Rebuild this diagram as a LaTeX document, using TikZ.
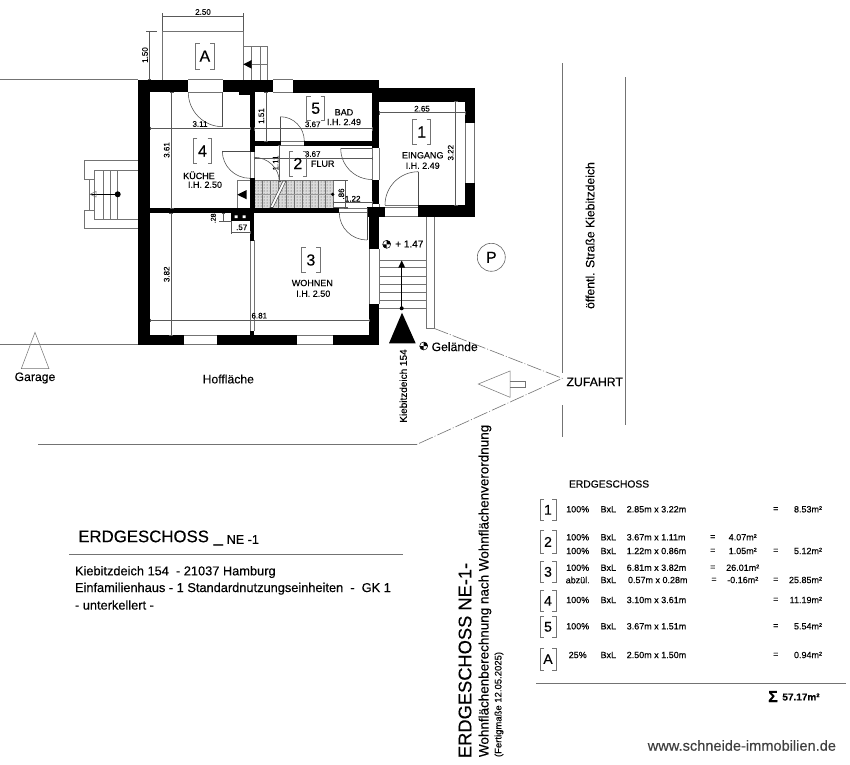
\documentclass[tikz,border=0pt]{standalone}
\usepackage{fontspec}
\setmainfont[FakeBold=0.25]{Liberation Sans}
\usetikzlibrary{calc,patterns}
\newcount\nodeno
\tikzset{
  gl/.style={draw=black!55,line width=.7pt},
  fl/.style={draw=black!70,line width=.55pt},
  dl/.style={draw=black!65,line width=.5pt},
  ddl/.style={draw=black!55,line width=.6pt,dash pattern=on 15pt off 2pt on 1pt off 2pt},
  txt/.style={inner sep=0pt,outer sep=0pt,text=black},
  up/.style={rotate=90}
}
\newcommand\tx[5][]{\global\advance\nodeno by 1
  \node[txt,#1] (n\the\nodeno) at (#2,#3) {\fontsize{#4}{#4}\selectfont #5};}
\newcommand\wall[4]{\fill[black] (#1,#2) rectangle (#3,#4);}
% door swing: start, end, corner
\newcommand\qarc[6]{\draw[fl] (#1,#2) .. controls ($(#1,#2)!0.5523!(#5,#6)$) and ($(#3,#4)!0.5523!(#5,#6)$) .. (#3,#4);}
\newcommand\dimh[3]{\draw[dl] (#1,#3) -- (#2,#3);
  \draw[dl] ({#1-.0},{#3-1.8}) -- ++(0,3.6) ({#2},{#3-1.8}) -- ++(0,3.6);}
\newcommand\dimv[3]{\draw[dl] (#3,#1) -- (#3,#2);
  \draw[dl] ({#3-1.8},#1) -- ++(3.6,0) ({#3-1.8},#2) -- ++(3.6,0);}
\newcommand\tagb[6]{\draw[gl,line width=.5pt] ({#1+4},#2) -- (#1,#2) -- (#1,#4) -- ({#1+4},#4);
  \draw[gl,line width=.5pt] ({#3-4},#2) -- (#3,#2) -- (#3,#4) -- ({#3-4},#4);
  \tx{{(#1+#3)/2}}{{(#2+#4)/2}}{#5}{#6}}
\newcommand\lev[2]{\draw[black,line width=.5pt] (#1,#2) circle[radius=4pt];
  \fill[black] (#1,#2) -- ({#1+4},#2) .. controls ({#1+4},{#2-2.2}) and ({#1+2.2},{#2-4}) .. (#1,{#2-4}) -- cycle;
  \fill[black] (#1,#2) -- ({#1-4},#2) .. controls ({#1-4},{#2+2.2}) and ({#1-2.2},{#2+4}) .. (#1,{#2+4}) -- cycle;}
\newcommand\rw[3]{\tx{577.7}{#1}{9}{#2}\tx{608.3}{#1}{9}{BxL}\tx[anchor=west]{626.7}{#1}{9}{#3}}
\begin{document}
\begin{tikzpicture}[x=1pt,y=-1pt]
\useasboundingbox (0,0) rectangle (850,764);
\fill[white] (0,0) rectangle (850,764);
% site lines
\draw[gl] (0,79.5) -- (138,79.5);
\draw[gl] (0,344.5) -- (138,344.5);
\draw[gl] (38,444.3) -- (417,444.3);
\draw[gl] (562.5,63) -- (562.5,373) (562.5,405) -- (562.5,437);
\draw[gl] (625.3,77) -- (625.3,425);
\draw[ddl] (434,328.3) -- (562.3,378.3) -- (417,444.3);
% A terrace
\draw[gl] (162.5,79.5) -- (162.5,31.3) -- (243.5,31.3) -- (243.5,79.5);
\draw[gl] (243.5,46.7) -- (267.7,46.7) -- (267.7,79.5);
\draw[gl] (251.7,46.7) -- (251.7,79.5) (260,46.7) -- (260,79.5);
\fill[black] (243.3,64.3) -- (251.7,60) -- (251.7,68.7) -- cycle;
\draw[gl] (251.7,64.3) -- (267.7,64.3);
\dimh{162.5}{243.5}{16}
\draw[dl] (162.5,13) -- (162.5,31) (243.5,13) -- (243.5,31);
\dimv{31}{79.5}{149.3}
\draw[dl] (146,31.3) -- (157,31.3);
\tx{203}{12}{8}{2.50}
\tx[up]{145}{55}{8}{1.50}
\tagb{195.7}{43.3}{214}{69}{16}{A}
% left stairs
\draw[gl] (138,160.3) -- (84.3,160.3) -- (84.3,179.3) -- (94.3,179.3) -- (94.3,170) -- (138,170);
\draw[gl] (138,228.7) -- (84.3,228.7) -- (84.3,210) -- (94.3,210) -- (94.3,219.3) -- (138,219.3);
\draw[gl] (94.3,170) -- (94.3,219.3) (89.3,179.3) -- (89.3,210);
\draw[gl] (103.3,170) -- (103.3,219.3) (110.7,170) -- (110.7,219.3) (117.7,170) -- (117.7,219.3);
\draw[black,line width=.5pt] (89.5,194.3) -- (117.7,194.3);
\fill[black] (117.7,194.3) circle[radius=3pt];
\draw[gl,line width=.5pt] (90,194.3) -- (96,191.5) -- (96,197) -- cycle;
% stair hatch
\fill[black!14] (254.5,180) rectangle (333,207.5);
\fill[pattern=dots,pattern color=black!75] (254.5,180) rectangle (333,207.5);
\draw[gl,line width=.5pt] (254.5,180) -- (333,180) -- (333,207.5);
\foreach \sx in {262.5,270.3,278.2,286,294,302,310,318,325.5}{\draw[gl,line width=.5pt] (\sx,180) -- (\sx,207.5);}
\draw[fl,draw=black!40] (254.5,194) -- (333,194);
\draw[fl,fill=white] (270,207.5) -- (283,181) -- (286,181) -- (273,207.5) -- cycle;
\fill[black] (332.7,194.3) circle[radius=1.8pt];
% openings
\draw[gl] (188.3,79.5) -- (222.7,79.5) (188.3,92.3) -- (222.7,92.3);
\draw[gl] (273.3,79.5) -- (292.7,79.5) (273.3,92.3) -- (292.7,92.3);
\draw[gl] (184,335.2) -- (217.3,335.2) (184,344.8) -- (217.3,344.8);
\draw[gl] (296.7,335.2) -- (333.3,335.2) (296.7,344.8) -- (333.3,344.8);
\draw[gl] (369.5,249) -- (369.5,304) (379,249) -- (379,304);
\draw[gl] (465.3,122) -- (465.3,183) (474.7,122) -- (474.7,183);
\draw[gl] (372.3,148) -- (372.3,180) (379,148) -- (379,180);
\draw[gl] (250.3,152) -- (250.3,178) (254.3,152) -- (254.3,178);
\draw[gl] (280.5,141.2) -- (304.3,141.2) (280.5,145.3) -- (304.3,145.3);
\draw[gl] (250,240) -- (250,331) (254,240) -- (254,331);
\draw[gl] (339.3,208) -- (367.3,208) (339.3,212.7) -- (367.3,212.7);
\draw[gl] (385,205.2) -- (418.3,205.2) (385,207.5) -- (418.3,207.5) (385,216.5) -- (418.3,216.5);
\draw[gl] (372.3,204) -- (372.3,208) (379,204) -- (379,208);
% walls
\wall{138}{79.5}{188.3}{92.3}
\wall{222.7}{79.5}{273.3}{92.3}
\wall{239.3}{92}{252}{95}
\wall{292.7}{79.5}{379.3}{92.5}
\wall{138}{79.5}{150}{345}
\wall{138}{335}{184}{345}
\wall{217.3}{335}{296.7}{345}
\wall{333.3}{335}{379.3}{345}
\wall{369.3}{304}{379.3}{345}
\wall{369.3}{216}{379.3}{249.3}
\wall{367.3}{207.3}{385}{216.7}
\wall{372}{180}{379.3}{204}
\wall{372}{79.5}{379.3}{148.3}
\wall{379.3}{88.3}{475}{101.7}
\wall{465}{88.3}{475}{122.7}
\wall{465}{182.7}{475}{216.7}
\wall{418.3}{205}{475}{216.7}
\wall{250}{92}{254.5}{152}
\wall{250}{141}{280.5}{145.5}
\wall{304.3}{141}{379}{145.5}
\wall{250}{178}{254.5}{212}
\wall{150}{208}{339.3}{213}
\wall{249.5}{208}{254.3}{240.7}
\wall{231.3}{213}{249.5}{220.7}
\wall{249.5}{331}{254.3}{335}
\fill[white] (234.7,215.3) rectangle (237.5,218) (242.7,215.3) rectangle (245.5,218);
% small stair in Kueche
\draw[gl] (237.3,180) -- (237.3,208) (237.3,180) -- (250,180);
\fill[black] (237.3,194.7) -- (246.7,190) -- (246.7,199.3) -- cycle;
% doors
\draw[fl] (222.7,92.3) -- (222.7,126.7);
\qarc{188.3}{92.3}{222.7}{126.7}{188.3}{126.7}
\draw[fl] (250,151) -- (222.3,151);
\qarc{222.3}{151}{250}{178.3}{222.3}{178.3}
\draw[fl] (280.3,141) -- (280.3,116.7);
\qarc{280.3}{116.7}{304.3}{141}{304.3}{116.7}
\draw[fl] (372,148.3) -- (340.7,148.3);
\qarc{340.7}{148.3}{372}{179.5}{340.7}{179.5}
\draw[fl] (418.3,205) -- (418.3,171.7);
\qarc{418.3}{171.7}{385}{205}{385}{171.7}
\draw[fl] (367,208) -- (367,240);
\qarc{339.3}{212.7}{367}{240}{339.3}{240}
\qarc{254}{157.3}{279.3}{181.7}{279.3}{157.3}
% dimensions
\dimh{150}{250}{128.3}\tx{200}{124}{8}{3.11}
\dimv{92}{208}{171.7}\tx[up]{166.7}{150}{8}{3.61}
\dimv{92}{141}{266}\tx[up]{261.3}{116}{8}{1.51}
\dimv{145.5}{181}{279.3}\tx[up]{275.7}{163}{8}{1.11}
\dimh{254}{372.5}{158.3}\tx{312.7}{154}{8}{3.67}
\dimh{254}{372}{128.7}\tx{312.7}{124.3}{8}{3.67}
\dimh{379.3}{465}{112.7}\tx{422}{108.7}{8}{2.65}
\dimv{101.7}{205}{455.7}\tx[up]{450.7}{152.7}{8}{3.22}
\dimv{180}{208}{345.7}\tx[up]{341.3}{194}{8}{.86}
\draw[dl] (333,180) -- (348,180) (333,207.5) -- (348,207.5);
\dimh{333}{372}{202.7}\tx{352.7}{198.7}{8}{1.22}
\dimv{213}{335}{171}\tx[up]{166.7}{274.3}{8}{3.82}
\dimh{150}{369}{320.3}\tx{259.3}{315.7}{8}{6.81}
\dimh{231}{250}{232.3}\tx{241.7}{227.3}{8}{.57}
\dimv{213}{221}{223.3}\tx[up]{213.3}{218.3}{7}{.28}
\draw[dl] (219,221) -- (231,221) (231,221) -- (231,234);
% room tags and labels
\tagb{306.7}{96}{324.7}{120.7}{16}{5}
\tx{344}{112.3}{9}{BAD}\tx{344}{122}{9}{I.H. 2.49}
\tagb{289}{151}{306.7}{176}{16}{2}
\tx{322.7}{163.7}{9}{FLUR}
\tagb{412.7}{119.3}{430.7}{144.7}{16}{1}
\tx{422.7}{155.3}{9}{EINGANG}\tx{422.7}{165.7}{9}{I.H. 2.49}
\tagb{193.3}{138.3}{211.7}{163.7}{16}{4}
\tx{199}{175.3}{9}{KÜCHE}\tx{205}{184.7}{9}{I.H. 2.50}
\tagb{301.7}{247.3}{320}{272.7}{16}{3}
\tx{312.3}{283}{9}{WOHNEN}\tx{313.3}{293.7}{9}{I.H. 2.50}
% entrance stairs
\draw[gl] (426.7,216.7) -- (426.7,328.3) -- (434,328.3) -- (434,216.7);
\foreach \sy in {260,267.7,276,284,292,300,308.3}{\draw[gl] (379.3,\sy) -- (426.7,\sy);}
\draw[black,line width=.5pt] (401.7,308.3) -- (401.7,262);
\fill[black] (401.7,260.5) -- (405.2,267.7) -- (398.2,267.7) -- cycle;
\fill[black] (401.7,308.3) circle[radius=2pt];
\fill[black] (402,312.7) -- (415.7,343.3) -- (389,343.3) -- cycle;
\lev{386.7}{244.3}\tx{409.3}{244}{10}{+ 1.47}
\lev{423.7}{346}\tx{454.7}{346.7}{12.2}{Gelände}
\tx[up]{403.3}{386}{10}{Kiebitzdeich 154}
\draw[black!60,line width=.6pt] (491.3,257.3) circle[radius=14pt];
\tx{491.3}{257.3}{16}{P}
\draw[gl,line width=.5pt] (478.3,384) -- (510,371) -- (510,397.3) -- cycle;
\draw[gl,line width=.5pt] (510,381) -- (525.7,381) -- (525.7,387.7) -- (510,387.7);
\tx{594.7}{382}{12.3}{ZUFAHRT}
\tx[up]{590}{235.5}{12.2}{öffentl. Straße Kiebitzdeich}
\tx{35}{378}{12.2}{Garage}
\draw[gl,line width=.5pt] (35,332.3) -- (49,368.7) -- (21.3,368.7) -- cycle;
\tx{228.3}{379}{12.2}{Hoffläche}
% title block
\tx[anchor=west]{78.3}{538}{16.8}{ERDGESCHOSS \_}
\tx[anchor=west]{226.7}{539.5}{12.6}{NE -1}
\draw[gl] (69.3,554) -- (402.7,554);
\tx[anchor=west]{75}{572}{12.8}{Kiebitzdeich 154 \ - 21037 Hamburg}
\tx[anchor=west]{75}{588.7}{12.8}{Einfamilienhaus - 1 Standardnutzungseinheiten \ - \ GK 1}
\tx[anchor=west]{75}{605}{12.8}{- unterkellert -}
\tx[rotate=90,anchor=west]{465}{758}{18.3}{ERDGESCHOSS NE-1-}
\tx[rotate=90,anchor=west]{485}{757}{13.45}{Wohnflächenberechnung nach Wohnflächenverordnung}
\tx[rotate=90,anchor=west]{499}{757}{9.5}{(Fertigmaße 12.05.2025)}
% table
\tx[anchor=west]{569}{484}{10.3}{ERDGESCHOSS}
\tagb{540}{499.3}{556}{520.3}{14}{1}
\tagb{540}{530.7}{556}{553}{14}{2}
\tagb{540}{561}{556}{582.7}{14}{3}
\tagb{540}{590}{556}{611.7}{14}{4}
\tagb{540}{616}{556}{637.7}{14}{5}
\tagb{540}{648.3}{556}{670}{14}{A}
\rw{509.3}{100\%}{2.85m x 3.22m}
\rw{537.3}{100\%}{3.67m x 1.11m}
\rw{551}{100\%}{1.22m x 0.86m}
\rw{567.7}{100\%}{6.81m x 3.82m}
\tx{577.7}{580}{9}{abzül.}\tx{608.3}{580}{9}{BxL}\tx[anchor=west]{628}{580}{9}{0.57m x 0.28m}
\rw{600}{100\%}{3.10m x 3.61m}
\rw{626.3}{100\%}{3.67m x 1.51m}
\rw{655}{25\%}{2.50m x 1.50m}
\tx{712.7}{537.3}{9}{=}\tx{742.7}{537.3}{9}{4.07m²}
\tx{712.7}{551}{9}{=}\tx{742.7}{551}{9}{1.05m²}
\tx{712.7}{567.7}{9}{=}\tx{742.7}{567.7}{9}{26.01m²}
\tx{714}{580}{9}{=}\tx{742.7}{580}{9}{-0.16m²}
\tx{775.7}{509.3}{9}{=}\tx[anchor=east]{822}{509.3}{9}{8.53m²}
\tx{775.7}{551}{9}{=}\tx[anchor=east]{822}{551}{9}{5.12m²}
\tx{775.7}{580}{9}{=}\tx[anchor=east]{822}{580}{9}{25.85m²}
\tx{775.7}{600}{9}{=}\tx[anchor=east]{822}{600}{9}{11.19m²}
\tx{775.7}{626.3}{9}{=}\tx[anchor=east]{822}{626.3}{9}{5.54m²}
\tx{775.7}{655}{9}{=}\tx[anchor=east]{822}{655}{9}{0.94m²}
\draw[gl] (536,683.3) -- (846,683.3);
\tx{773}{696.5}{16}{\textbf{Σ}}
\tx{801}{697}{10}{\textbf{57.17m²}}
\tx[anchor=east,text=black!75]{836}{745.5}{14.6}{www.schneide-immobilien.de}
\end{tikzpicture}
\end{document}
